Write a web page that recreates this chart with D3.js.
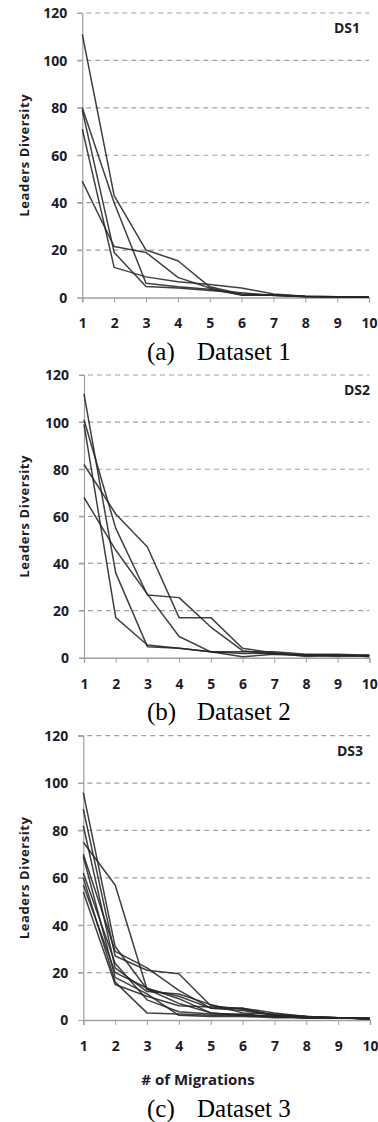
<!DOCTYPE html>
<html>
<head>
<meta charset="utf-8">
<script src="https://cdn.jsdelivr.net/npm/d3@7"></script>
<style>
    body { margin: 0; background: #fff; }
    svg { display: block; }
    .tick-label { font-family: "Open Sans", sans-serif; font-weight: bold; font-size: 14px; fill: #1c1c2a; }
    .axis-title { font-family: "Open Sans", sans-serif; font-weight: bold; font-size: 13px; fill: #1c1c2a; }
    .caption { font-family: "Liberation Serif", "Times New Roman", serif; font-size: 25px; fill: #000; }
</style>
</head>
<body>
<div id="chart"></div>
<script>
// x categories and y ticks
const migrations = [1, 2, 3, 4, 5, 6, 7, 8, 9, 10];
const yTicks = [0, 20, 40, 60, 80, 100, 120];

// leaders diversity per run, dataset 1
const ds1Series = [
    [111, 43, 20, 15.5, 4.5, 1.5, 1, 0.4, 0.2, 0.1],
    [80, 40, 6, 4.5, 3.5, 1, 1.2, 0.5, 0.3, 0.2],
    [79, 19, 4.6, 4, 3, 2, 0.8, 0.4, 0.2, 0.1],
    [71, 12.7, 8.7, 6.6, 5.5, 4, 1.5, 0.5, 0.3, 0.2],
    [49, 21.5, 19, 8.5, 4, 1, 1, 0.3, 0.2, 0.1]
];

// dataset 2
const ds2Series = [
    [82, 61, 47, 17, 17, 4, 2, 1, 1, 1],
    [68, 45.7, 27, 9, 2.5, 2.5, 2.5, 1.5, 1.5, 1],
    [101, 55, 26.6, 25.5, 13, 3, 1.5, 1, 1, 0.5],
    [99, 17, 5.4, 4, 2.5, 0.4, 1.5, 1, 0.5, 1],
    [112, 36, 4.7, 4, 2.5, 1.8, 2, 0.5, 1, 0.5]
];

// dataset 3
const ds3Series = [
    [96, 31, 13, 10, 5, 4, 2, 1.5, 1, 0.5],
    [89, 27, 21, 19.5, 6, 4.5, 2, 1, 1, 0.5],
    [82, 22, 12, 11, 6.5, 3, 2.5, 1.5, 1, 0.5],
    [75, 57, 13, 7, 3, 2, 1.5, 1, 1, 0.5],
    [70, 29, 22, 12.5, 5, 5, 2, 1.5, 1, 0.5],
    [69, 18, 11, 2, 1.5, 1.5, 1, 1, 0.8, 0.5],
    [62, 24, 8.5, 3.5, 2.5, 2.5, 1.5, 1, 0.8, 0.5],
    [60, 16, 3, 2.5, 2, 2, 1.5, 1, 1, 0.5],
    [57, 20, 13.5, 9, 3, 2, 1.5, 1, 1, 0.5],
    [54, 15, 10, 6, 5.5, 5, 3, 1.5, 1, 1]
];

const dsLabels = ["DS1", "DS2", "DS3"];
const captionTags = ["(a)", "(b)", "(c)"];
const captionNames = ["Dataset 1", "Dataset 2", "Dataset 3"];
const yTitle = "Leaders Diversity";
const xTitle = "# of Migrations";

const width = 378, height = 1122;

// plot area of each panel, in page pixels
const panels = [
    {series: ds1Series, left: 82.3, right: 369, top: 13, bottom: 297.5, dsX: 347},
    {series: ds2Series, left: 84, right: 369.3, top: 375, bottom: 657.7, dsX: 357},
    {series: ds3Series, left: 83.3, right: 370, top: 735.7, bottom: 1020, dsX: 350}
];

const svg = d3.select("#chart").append("svg")
    .attr("width", width)
    .attr("height", height);

panels.forEach((p, i) => drawPanel(p, i));

function drawPanel(p, i) {
    const g = svg.append("g");

    const x = d3.scaleLinear()
        .domain([1, 10])
        .range([p.left, p.right]);

    const y = d3.scaleLinear()
        .domain([0, 120])
        .range([p.bottom, p.top]);

    // dashed gridlines
    g.selectAll(".grid")
        .data(yTicks.filter(d => d > 0))
        .enter().append("line")
        .attr("x1", p.left - 5)
        .attr("x2", p.right)
        .attr("y1", d => y(d))
        .attr("y2", d => y(d))
        .attr("stroke", "#a0a0a0")
        .attr("stroke-width", 1.2)
        .attr("stroke-dasharray", "5,4");

    // y axis
    const yAxis = g.append("g")
        .attr("transform", `translate(${p.left},0)`)
        .call(d3.axisLeft(y).tickValues(yTicks).tickSize(5).tickPadding(10));
    yAxis.select(".domain").attr("stroke", "#a0a0a0").attr("stroke-width", 1.2);
    yAxis.selectAll(".tick line").attr("stroke", "#a0a0a0");
    yAxis.selectAll(".tick text")
        .attr("class", "tick-label")
        .attr("font-family", null).attr("font-size", null)
        .attr("dy", "0.35em");

    // x axis
    const xAxis = g.append("g")
        .attr("transform", `translate(0,${p.bottom})`)
        .call(d3.axisBottom(x).tickValues(migrations).tickSize(5).tickPadding(16).tickFormat(d3.format("d")));
    xAxis.select(".domain").attr("stroke", "#a0a0a0").attr("stroke-width", 1.4);
    xAxis.selectAll(".tick line").attr("stroke", "#a0a0a0");
    xAxis.selectAll(".tick text")
        .attr("class", "tick-label")
        .attr("font-family", null).attr("font-size", null);

    // runs
    const line = d3.line()
        .x((d, j) => x(migrations[j]))
        .y(d => y(d));

    g.selectAll(".run")
        .data(p.series)
        .enter().append("path")
        .attr("class", "run")
        .attr("d", line)
        .attr("fill", "none")
        .attr("stroke", "#262626")
        .attr("stroke-opacity", 0.88)
        .attr("stroke-width", 1.5)
        .attr("stroke-linejoin", "round");

    // dataset tag
    g.append("text")
        .attr("class", "axis-title")
        .attr("x", p.dsX)
        .attr("y", p.top + 20)
        .style("font-size", "14px")
        .style("text-anchor", "middle")
        .text(dsLabels[i]);

    // y title
    g.append("text")
        .attr("class", "axis-title")
        .attr("transform", `translate(29,${(p.top + p.bottom) / 2}) rotate(-90)`)
        .style("text-anchor", "middle")
        .style("letter-spacing", "0.6px")
        .text(yTitle);

    let capY = p.bottom + 62;
    if (i === 2) {
        g.append("text")
            .attr("class", "axis-title")
            .attr("x", 198)
            .attr("y", p.bottom + 65)
            .style("font-size", "15px")
            .style("text-anchor", "middle")
            .text(xTitle);
        capY = p.bottom + 97;
    }

    g.append("text")
        .attr("class", "caption")
        .attr("x", 147)
        .attr("y", capY)
        .text(captionTags[i]);

    g.append("text")
        .attr("class", "caption")
        .attr("x", 197)
        .attr("y", capY)
        .text(captionNames[i]);
}
</script>
</body>
</html>
